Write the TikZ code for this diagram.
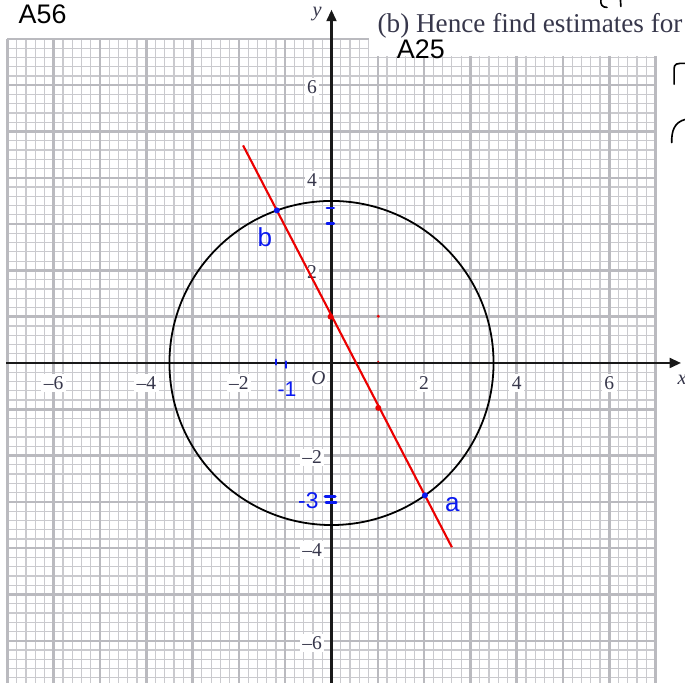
\documentclass[tikz,border=0pt]{standalone}
\usepackage{fontspec}
\setmainfont{Liberation Serif}
\newfontfamily\hand{Liberation Sans}
\usetikzlibrary{arrows.meta,intersections}
\definecolor{gridminor}{RGB}{202,202,206}
\definecolor{gridmajor}{RGB}{186,186,191}
\definecolor{penblue}{RGB}{10,25,240}
\definecolor{penred}{RGB}{235,0,0}
\definecolor{printgray}{RGB}{55,55,75}
\begin{document}
\begin{tikzpicture}[x=1cm,y=1cm,
  minorgrid/.style={draw=gridminor,line width=0.75pt},
  majorgrid/.style={draw=gridmajor,line width=1.5pt},
  axisline/.style={line width=1.5pt,black!90,-{Triangle[length=7pt,width=6pt]}},
  ticklab/.style={fill=white,inner sep=1.5pt,text=printgray,font=\fontsize{12}{14}\selectfont},
  bluepen/.style={penblue,line width=1.6pt,line cap=round},
  blackpen/.style={black,line width=1pt,line cap=round},
  blacknote/.style={inner sep=0pt,font=\hand\fontsize{16.5}{19}\selectfont},
  bluenote/.style={inner sep=0pt,text=penblue,font=\hand\fontsize{16}{18}\selectfont},
]
\useasboundingbox (-7.16,-6.911) rectangle (7.635,7.84);
\clip (-7.16,-6.911) rectangle (7.635,7.84);
\fill[white] (-7.16,-6.911) rectangle (7.635,7.84);
% graph paper
\draw[minorgrid] (-7,-7) grid[step=0.2] (7,7);
\draw[majorgrid] (-7,-7) grid[step=1] (7,7);
\fill[white] (0.82,6.62) rectangle (7.7,7.9);
% axes
\draw[axisline] (-7.03,0) -- (7.55,0);
\draw[axisline] (0,-7) -- (0,7.63);
\node[text=printgray,font=\itshape\fontsize{12.5}{14}\selectfont] (ylab) at (-0.31,7.53) {y};
\node[text=printgray,font=\itshape\fontsize{12.5}{14}\selectfont,anchor=west,inner sep=0pt] (xlab) at (7.47,-0.37) {x};
\node[text=printgray,font=\itshape\fontsize{12}{14}\selectfont,fill=white,inner sep=1pt] (olab) at (-0.28,-0.33) {O};
% tick labels
\foreach \v/\t [count=\i] in {-6/–6,-4/–4,-2/–2,2/2,4/4,6/6}{
  \node[ticklab] (xt\i) at (\v,-0.44) {\t};
  \node[ticklab] (yt\i) at (-0.42,\v-0.04) {\t};
}
% heading text
\node[anchor=base west,inner sep=0pt,font=\fontsize{16.7}{19}\selectfont,text=printgray] (head) at (0.99,7.14) {(b) Hence find estimates for};
\node[blacknote] (a56) at (-6.24,7.53) {A56};
\node[blacknote] (a25) at (1.93,6.78) {A25};
% circle and line
\draw[black,line width=1.1pt,name path=circ] (0,0) circle (3.5);
\draw[penred,line width=1.3pt,name path=rline] (-1.91,4.70) -- (2.60,-3.98);
\fill[penred] (-0.02,1.0) circle (0.065);
\fill[penred] (1.01,-0.97) circle (0.065);
\fill[penred] (1.01,1.01) circle (0.035);
\fill[penred] (1.01,0.03) circle (0.022);
\path[name intersections={of=circ and rline,by={ia,ib}}];
\fill[penblue] (ia) circle (0.065);
\fill[penblue] (ib) circle (0.065);
% blue annotations
\node[bluenote] (nb) at (-1.44,2.72) {b};
\node[bluenote] (na) at (2.61,-3.06) {a};
\node[bluenote,font=\hand\fontsize{14}{16}\selectfont] (nm3) at (-0.50,-2.97) {-3};
\node[bluenote,font=\hand\fontsize{13}{15}\selectfont] (nm1) at (-0.96,-0.56) {-1};
\draw[bluepen] (-0.1,3.35) -- (0.05,3.35);
\draw[bluepen] (-0.1,3.01) -- (0.05,3.01);
\draw[bluepen] (-0.14,-2.88) -- (0.08,-2.88);
\draw[bluepen] (-0.12,-3.01) -- (0.1,-3.01);
\draw[bluepen] (-1.2,0.07) -- (-1.2,-0.03);
\draw[bluepen] (-0.98,0.03) -- (-0.98,-0.1);
% black marks on the right and top
\draw[blackpen] (7.40,6.02) -- (7.40,6.36) .. controls (7.40,6.46) and (7.46,6.48) .. (7.64,6.47);
\draw[blackpen] (7.35,4.76) .. controls (7.34,5.00) and (7.40,5.20) .. (7.64,5.26);
\draw[blackpen] (5.82,7.86) .. controls (5.80,7.74) and (5.85,7.68) .. (5.95,7.68);
\draw[blackpen] (6.24,7.86) -- (6.25,7.70);
\end{tikzpicture}
\end{document}
